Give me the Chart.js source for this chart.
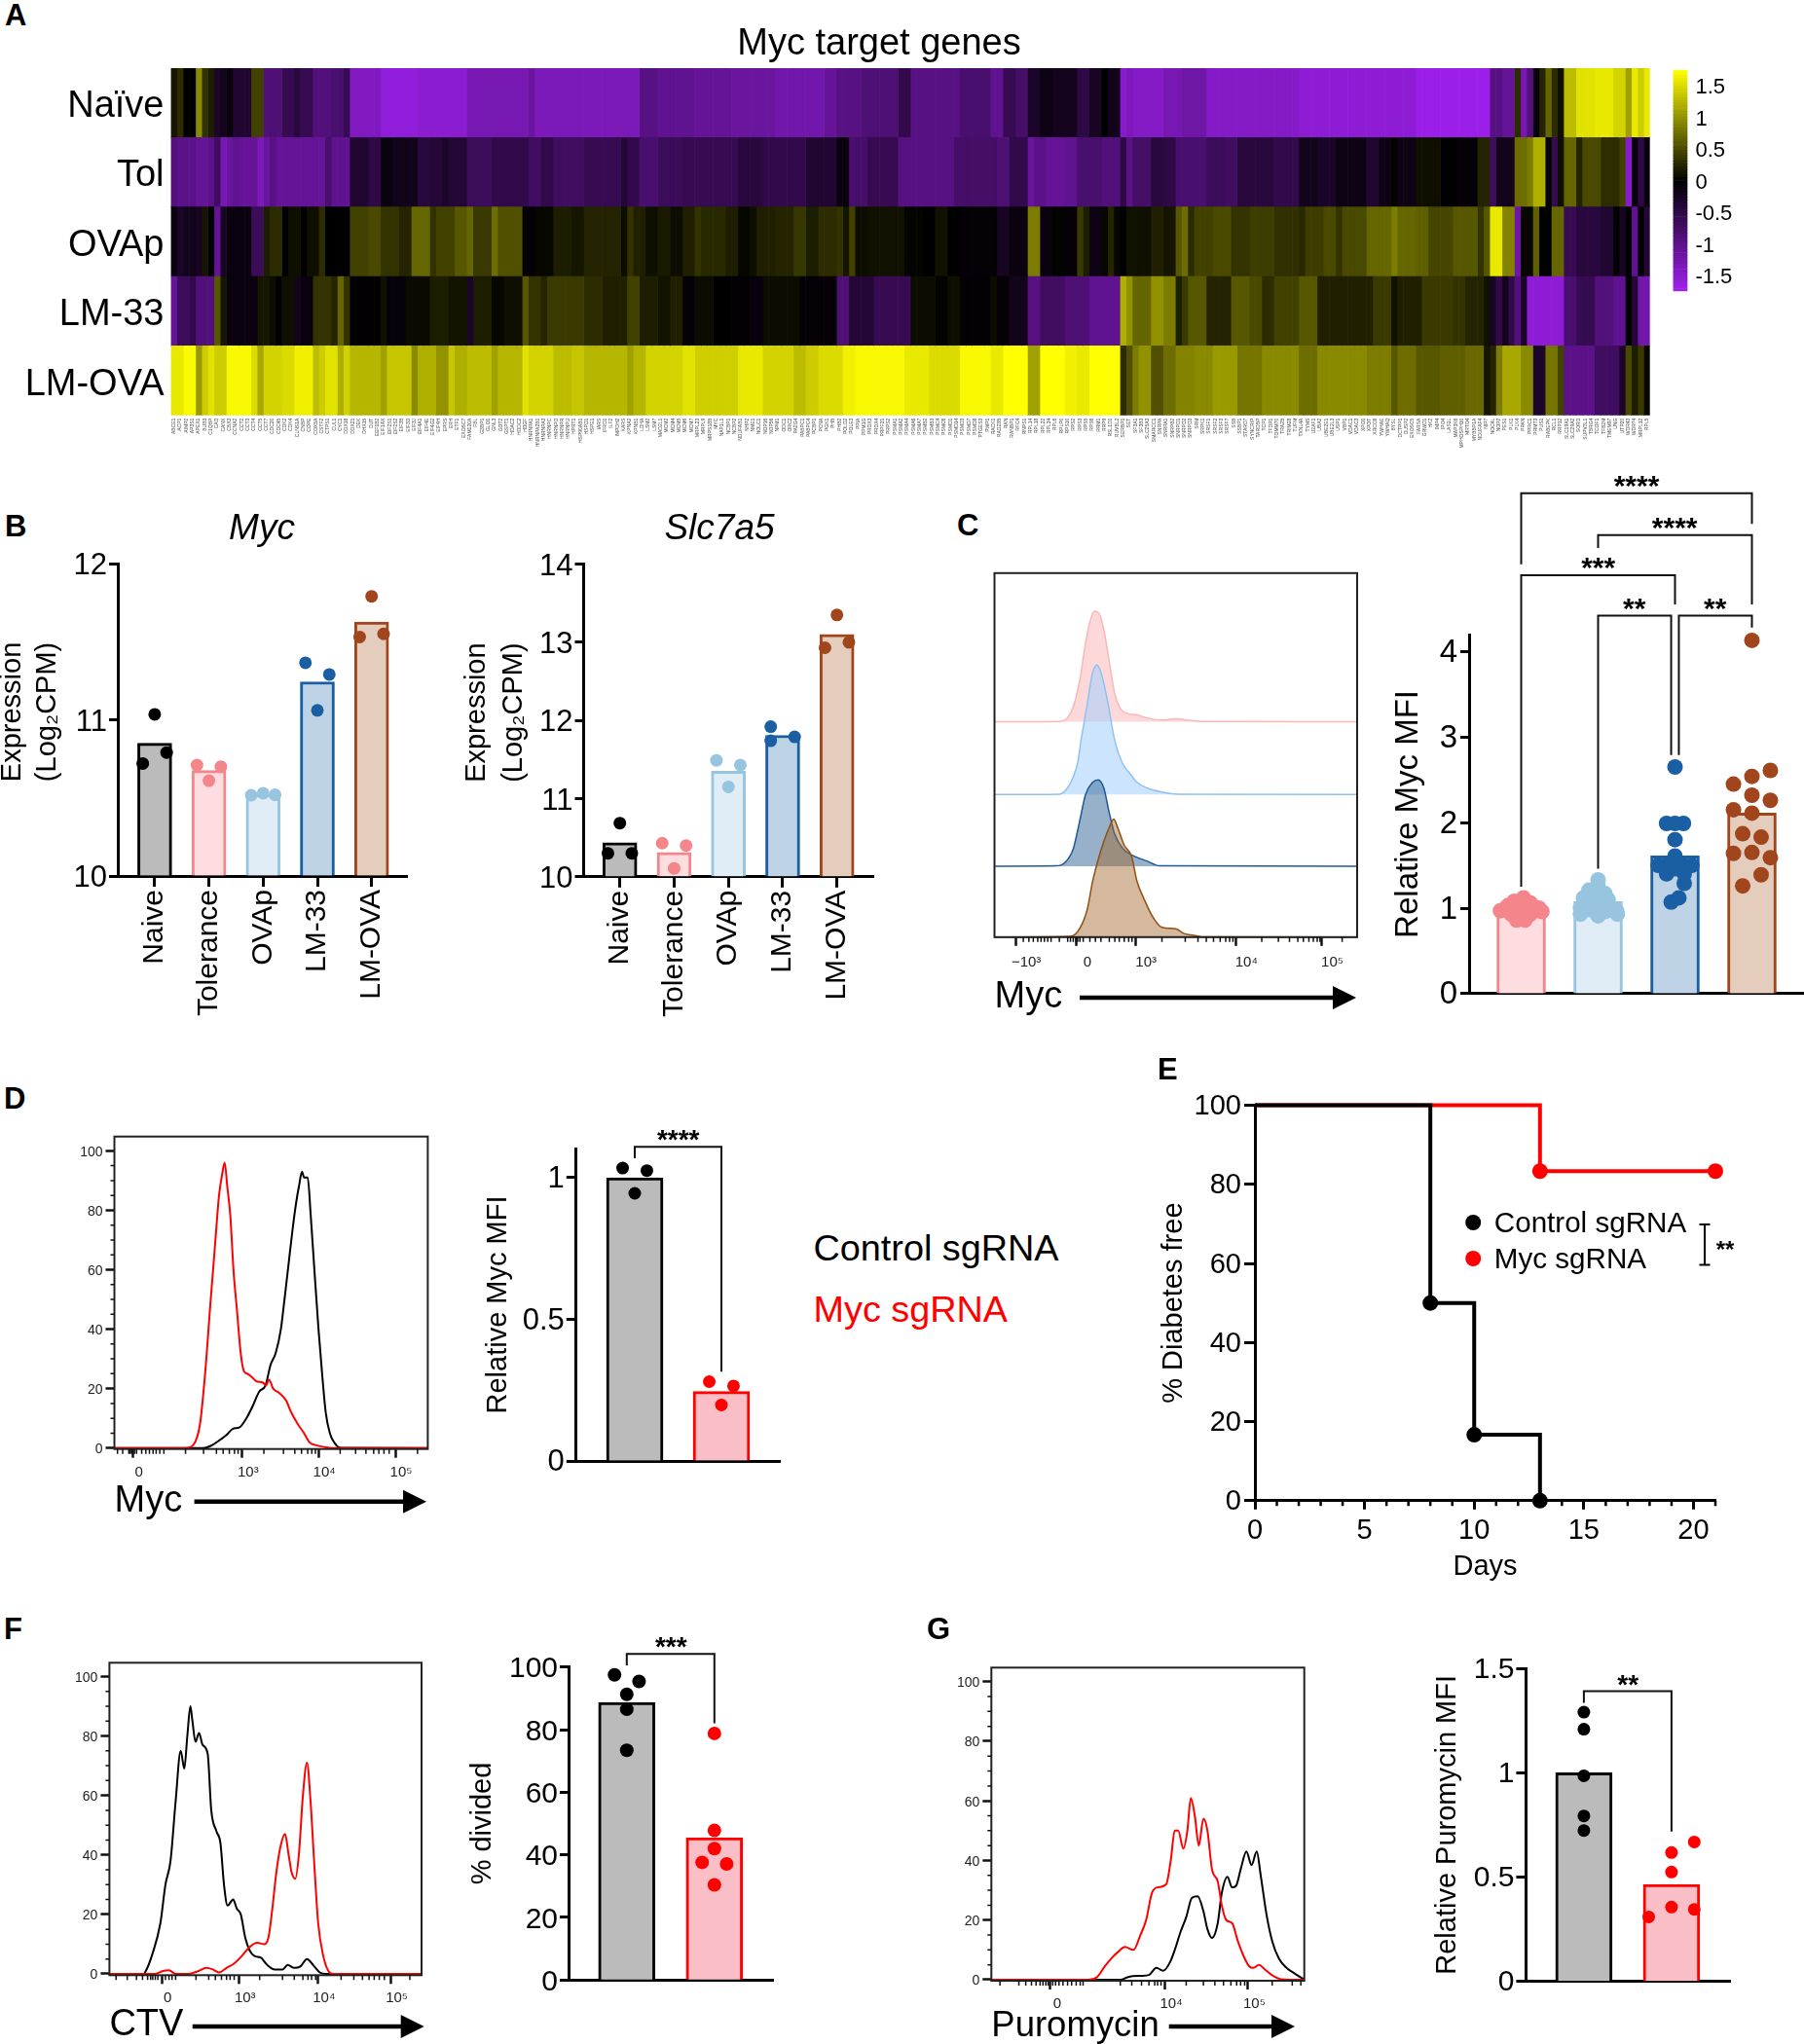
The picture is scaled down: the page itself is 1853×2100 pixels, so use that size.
<!DOCTYPE html>
<html><head><meta charset="utf-8">
<script src="https://cdn.jsdelivr.net/npm/chart.js@4/dist/chart.umd.min.js"></script>
<style>
html,body{margin:0;padding:0;background:#fff}
#page{position:relative;width:1853px;height:2100px;overflow:hidden;background:#fff;font-family:"Liberation Sans",Arial,sans-serif;color:#000}
#page canvas{position:absolute}
.t{position:absolute;white-space:nowrap;line-height:1}
svg{position:absolute;left:0;top:0}
</style></head><body><div id="page"></div>
<script>
/* ---------- Panel A: heatmap, each row is [end column (exclusive), z-score] runs ---------- */
const heatRows=["Naïve","Tol","OVAp","LM-33","LM-OVA"];
const heatNaive=[[1,.15],[2,.3],[4,0],[5,.95],[6,.35],[7,.2],[8,-.3],[9,-.2],[10,-.1],[13,-.35],[15,.45],[16,-.9],[18,-.85],[20,-.6],[21,-.45],[23,-.6],[26,-.9],[28,-.8],[29,-.6],[34,-1.4],[40,-1.58],[48,-1.52],[58,-1.3],[59,-1.15],[76,-1.35],[79,-.95],[85,-1.05],[91,-1.1],[98,-1.15],[106,-1.25],[108,-1.1],[112,-.95],[118,-.85],[120,-.55],[128,-.95],[133,-.8],[135,-1.05],[137,-.6],[139,-.75],[141,-.3],[143,-.15],[147,-.22],[149,-.5],[151,-.25],[152,0],[154,-.2],[155,-1.5],[156,-1.35],[161,-1.45],[164,-1.3],[168,-1.2],[183,-1.45],[202,-1.55],[214,-1.7],[216,-.95],[218,-1.1],[219,.3],[220,-1.3],[221,-.9],[222,-.1],[223,.25],[224,.7],[225,.3],[226,.1],[228,1.3],[231,1.55],[234,1.6],[236,1.45],[237,1.1],[238,1.6],[239,1.4],[240,1.6]];
const heatTol=[[1,-.9],[4,-1],[6,-1.1],[7,-1],[8,-.7],[9,-1.3],[10,-1.15],[11,-1.05],[14,-1.1],[15,-1.35],[16,-1.15],[17,-.95],[25,-1.1],[26,-.8],[29,-1.05],[32,-.35],[34,-.5],[36,-.12],[40,-.2],[42,-.45],[44,-.4],[45,-.3],[48,-.4],[52,-.65],[58,-.55],[60,-.7],[62,-.55],[67,-.7],[73,-.6],[74,-.4],[76,-.55],[79,-.8],[83,-.65],[92,-.6],[96,-.45],[103,-.55],[108,-.35],[110,-.1],[111,-.8],[113,-.75],[118,-.6],[127,-.95],[134,-.75],[136,-.85],[139,-.55],[140,-1.15],[142,-1],[145,-1.1],[147,-1.05],[151,-.8],[154,-.9],[155,-.5],[156,-1],[159,-.75],[161,-.45],[163,-.5],[168,-.8],[171,-.65],[173,-.7],[179,-.45],[183,-.55],[186,-.2],[189,-.3],[194,-.15],[196,-.35],[198,-.15],[199,.02],[202,-.15],[206,.1],[209,0],[212,-.05],[214,.25],[215,-.7],[218,-.2],[220,.75],[221,.85],[223,1.2],[224,0],[225,-.6],[226,.1],[228,.7],[229,.25],[232,.5],[235,.3],[236,.45],[237,-1.5],[238,-.1],[239,-.5],[240,-.1]];
const heatOVAp=[[1,-.1],[2,-.3],[4,-.2],[5,-.25],[6,.15],[7,0],[8,-1.1],[9,-.25],[13,-.12],[15,-.65],[16,.2],[18,.3],[19,0],[21,.1],[22,0],[24,.1],[25,.3],[29,0],[32,.45],[34,.5],[37,.35],[39,.25],[42,.7],[43,.35],[46,.45],[48,.6],[49,.7],[52,.4],[53,.75],[57,.55],[59,-.05],[62,.05],[65,.2],[67,.15],[73,.25],[74,.08],[75,.35],[77,.22],[79,.1],[81,.18],[83,.08],[85,.22],[86,.35],[90,.28],[92,.2],[94,.05],[95,.1],[98,.22],[101,.25],[103,.38],[105,.2],[108,.3],[109,.35],[110,.15],[111,.45],[113,.08],[119,.12],[122,.03],[124,0],[126,.12],[128,0],[134,-.05],[136,-.25],[139,-.12],[141,.85],[143,-.12],[145,.02],[147,-.05],[148,.4],[149,.2],[151,-.15],[152,.05],[153,.25],[154,.05],[155,-.02],[158,.12],[159,.1],[161,.22],[163,.15],[164,.6],[165,.75],[166,.3],[169,.45],[172,.5],[175,.35],[179,.42],[183,.33],[184,.28],[187,.42],[189,.5],[190,.35],[194,.5],[198,.7],[199,.85],[202,.7],[204,.65],[208,.48],[212,.6],[213,.35],[214,.6],[216,1.6],[218,.9],[219,-1.2],[221,.05],[222,.65],[224,0],[226,.7],[228,-.6],[232,-.45],[234,-.35],[235,-.02],[236,-.25],[237,-.02],[238,-1.05],[239,0],[240,-.4]];
const heatLM33=[[1,-1.1],[3,-.65],[4,-.55],[7,-.9],[8,.6],[9,.15],[14,-.12],[16,.15],[17,.08],[18,-.02],[20,.1],[21,-.2],[23,-.1],[26,.35],[27,.25],[28,.7],[29,.35],[34,-.02],[35,.12],[38,-.08],[42,.07],[45,.2],[48,.13],[49,-.3],[52,.2],[54,.05],[57,.1],[58,.6],[60,.35],[61,.25],[67,.4],[70,.3],[74,.22],[76,.45],[79,.2],[81,.13],[83,.22],[85,-.05],[88,.08],[91,0],[94,-.03],[96,-.1],[102,.08],[108,-.05],[110,-.85],[114,-.4],[120,-.6],[124,.08],[126,.02],[128,.1],[133,-.03],[134,.08],[136,-.05],[139,-.2],[141,-.95],[145,-.7],[149,-.85],[154,-1.05],[155,1.2],[156,1],[159,.7],[161,1],[163,.85],[164,.2],[165,.4],[168,.6],[172,.25],[175,.6],[177,.5],[179,.3],[183,.45],[186,.6],[195,.22],[198,.4],[199,.12],[203,.22],[208,.4],[210,.35],[213,.25],[214,.12],[215,-.25],[216,-.55],[217,-.2],[218,-.55],[219,-.9],[220,-.3],[226,-1.55],[228,-.8],[231,-.6],[234,-.9],[236,-1.05],[237,-.02],[238,-.4],[240,-1.25]];
const heatLMOVA=[[2,1.6],[4,1.72],[5,1.05],[6,1.4],[7,1.55],[9,1.4],[13,1.7],[14,1.5],[15,1.15],[18,1.45],[20,1.5],[23,1.65],[24,1.3],[25,1.4],[27,1.55],[28,1.2],[29,1.45],[34,1.25],[35,1.1],[39,1.35],[40,.95],[43,1.2],[45,1],[46,1.35],[48,1.2],[52,1.3],[53,1.1],[57,1.25],[58,1.55],[62,1.45],[65,1.3],[67,1.35],[74,1.25],[75,1.1],[77,1.25],[83,1.45],[85,1.55],[92,1.42],[96,1.6],[101,1.45],[103,1.3],[105,1.4],[109,1.5],[111,1.65],[119,1.7],[123,1.6],[128,1.5],[133,1.7],[135,1.6],[139,1.75],[141,1.1],[145,1.75],[147,1.65],[149,1.6],[154,1.75],[155,.3],[156,.55],[157,.85],[159,1],[161,.55],[163,.75],[166,.9],[169,.95],[173,1.05],[177,.8],[183,.95],[186,.75],[194,.95],[198,.85],[199,.6],[202,.75],[206,.6],[210,.65],[213,.72],[214,.15],[215,.25],[216,.85],[219,1.15],[221,.95],[223,-.3],[225,.8],[226,.45],[231,-1],[235,-.7],[236,-.3],[237,.5],[238,.2],[239,.4],[240,.05]];
const geneLabels="ABCE1 ACP1 AIMP2 AP3S1 APEX1 BUB3 C1QBP CAD CANX CBX3 CCNA2 CCT2 CCT3 CCT4 CCT5 CCT7 CDC20 CDC45 CDK2 CDK4 CLNS1A CNBP COPE COX5A CSTF2 CTPS1 CUL1 CYC1 DDX18 DDX21 DEK DHX15 DUT EEF1B2 EIF1AX EIF2S1 EIF2S2 EIF3B EIF3D EIF3J EIF4A1 EIF4E EIF4G2 EIF4H EPRS ERH ETF1 EXOSC7 FAM120A FBL G3BP1 GLO1 GNL3 GOT2 GSPT1 HDAC2 HDDC2 HDGF HNRNPA1 HNRNPA2B1 HNRNPA3 HNRNPC HNRNPD HNRNPR HNRNPU HPRT1 HSP90AB1 HSPD1 HSPE1 IARS IFRD1 ILF2 IMPDH2 KARS KPNA2 KPNB1 LDHA LSM2 LSM7 MAD2L1 MCM2 MCM4 MCM5 MCM6 MCM7 MRPL23 MRPL9 MRPS18B MYC NAP1L1 NCBP1 NCBP2 NDUFAB1 NHP2 NME1 NOLC1 NOP16 NOP56 NPM1 ODC1 ORC2 PA2G4 PABPC1 PABPC4 PCBP1 PCNA PGK1 PHB PHB2 POLD2 POLE3 PPIA PPM1G PRDX3 PRDX4 PRPF31 PRPS2 PSMA1 PSMA2 PSMA4 PSMA6 PSMA7 PSMB2 PSMB3 PSMC4 PSMC6 PSMD1 PSMD14 PSMD3 PSMD7 PSMD8 PTGES3 PWP1 RACK1 RAD23B RAN RANBP1 RFC4 RNPS1 RPL14 RPL18 RPL22 RPL34 RPL6 RPLP0 RPS10 RPS2 RPS3 RPS5 RPS6 RRM1 RRP9 RSL1D1 RUVBL2 SERBP1 SET SF3A1 SF3B3 SLC25A3 SMARCC1 SNRPA SNRPA1 SNRPB2 SNRPD1 SNRPD2 SNRPD3 SRM SRPK1 SRSF1 SRSF2 SRSF3 SRSF7 SSB SSBP1 STARD7 SYNCRIP TARDBP TCP1 TFDP1 TOMM70 TRA2B TRIM28 TUFM TXNL4A TYMS U2AF1 UBA2 UBE2E1 UBE2L3 USP1 VBP1 VDAC1 VDAC3 XPO1 XPOT XRCC6 YWHAE YWHAQ BYSL DCTPP1 DUSP2 EXOSC5 FARSA GRWD1 HK2 IMP4 IPO4 LAS1L MAP3K6 MPHOSPH10 MRTO4 MYBBP1A NDUFAF4 NIP7 NOC4L NOP2 PES1 PLK1 PLK4 PPAN PPRC1 PRMT3 PUS1 RABEPK RCL1 RRP12 SLC19A1 SLC29A2 SORD SUPV3L1 TBRG4 TCOF1 TFB2M TMEM97 UNG UTP20 WDR43 WDR74 MRPL12 RPL5 RPL10 EIF3A NOP58 DKC1".split(" ");
const legendTicks=[1.5,1,.5,0,-.5,-1,-1.5];

/* ---------- Panel B ---------- */
const exprCats=["Naive","Tolerance","OVAp","LM-33","LM-OVA"];
const mycMeans=[10.85,10.675,10.52,11.243,11.625];
const mycPoints=[[[0,11.035],[-.22,10.72],[.22,10.79]],[[-.22,10.71],[.22,10.70],[0,10.61]],[[-.22,10.517],[0,10.53],[.22,10.52]],[[-.22,11.365],[.22,11.29],[0,11.06]],[[0,11.79],[-.22,11.53],[.22,11.55]]];
const slcMeans=[10.437,10.31,11.35,11.81,13.10];
const slcPoints=[[[0,10.686],[-.22,10.30],[.22,10.30]],[[-.22,10.43],[.22,10.40],[0,10.107]],[[-.22,11.49],[.22,11.43],[0,11.15]],[[-.22,11.92],[-.22,11.74],[.22,11.79]],[[0,13.35],[-.22,12.93],[.22,13.0]]];

/* ---------- Panel C ---------- */
const cFlowPink=[[108,598],[225,599],[240,610],[250,640],[262,715],[272,815],[280,875],[288,905],[296,900],[305,855],[315,765],[325,675],[335,635],[345,623],[365,617],[385,608],[410,603],[435,606],[460,602],[480,599],[500,599],[762,598]];
const cFlowLight=[[108,396],[225,397],[240,415],[250,445],[258,485],[265,555],[275,645],[285,735],[293,756],[302,725],[312,655],[325,545],[338,485],[352,455],[365,430],[385,413],[410,403],[440,397],[762,396]];
const cFlowBlue=[[108,197],[220,198],[235,207],[250,245],[262,325],[272,395],[285,430],[295,437],[305,415],[315,345],[325,285],[340,245],[360,225],[385,210],[405,198],[762,197]];
const cFlowBrown=[[108,0],[245,2],[262,25],[275,75],[285,155],[295,215],[305,265],[315,305],[323,328],[330,305],[342,255],[355,225],[365,155],[378,105],[392,60],[410,27],[435,23],[450,10],[468,5],[480,1],[762,0]];
const cMeans=[1.0,1.08,1.61,2.11];
const cPoints=[
[[.03,1.12],[-.09,1.08],[.12,1.06],[-.2,1],[.23,1],[0,1],[-.27,.97],[.27,.96],[-.13,.93],[.12,.93],[-.06,.86],[.05,.86],[0,.91],[-.17,1.03],[.16,1.01]],
[[0,1.33],[0,1.25],[-.12,1.21],[.09,1.17],[-.19,1.12],[0,1.10],[.13,1.10],[-.23,1],[.24,.97],[-.09,.98],[.09,.96],[0,1],[-.23,.93],[.25,.93],[0,.91]],
[[0,2.65],[-.11,1.99],[.11,1.99],[0,1.99],[0,1.8],[0,1.61],[-.22,1.5],[-.11,1.5],[0,1.5],[.11,1.5],[.22,1.5],[-.11,1.4],[.12,1.4],[0,1.46],[.12,1.29],[.05,1.12],[-.05,1.07]],
[[0,4.13],[.24,2.61],[0,2.54],[-.24,2.45],[0,2.32],[.24,2.26],[-.24,2.15],[0,2.11],[-.12,1.87],[.12,1.83],[-.24,1.64],[0,1.65],[.24,1.59],[.12,1.39],[-.12,1.26]]];
const cBrackets=[[[0,5.02],[0,5.85],[3,5.85],[3,5.49]],[[1,5.21],[1,5.36],[3,5.36],[3,4.55]],[[0,1.25],[0,4.89],[2,4.89],[2,4.55]],[[1,1.46],[1,4.42],[1.95,4.42],[1.95,2.79]],[[2.05,2.79],[2.05,4.42],[3,4.42],[3,4.28]]];

/* ---------- Panel D ---------- */
const dFlowRed=[[222,0],[360,0],[375,1],[388,8],[398,25],[408,48],[418,70],[425,85],[431,92],[436,96],[441,88],[447,78],[453,60],[460,46],[467,32],[473,26],[480,25],[488,24],[497,22.5],[510,22],[516,21],[522,23],[530,20],[542,18.5],[555,16],[565,12],[578,8],[590,5],[600,2],[612,1],[630,.3],[645,0],[830,0]];
const dFlowBlack=[[222,0],[395,0],[410,.8],[425,2.5],[440,4.5],[452,6.5],[465,7],[478,10],[490,14],[503,19],[515,21],[525,28],[535,32],[545,40],[552,50],[560,62],[568,74],[575,83],[580,88],[586,93],[590,91],[597,91],[603,78],[610,60],[618,40],[625,25],[632,12],[640,5],[650,1.5],[660,.1],[830,0]];
const dMeans=[1,.245];
const dPoints=[[[-.14,1.034],[.14,1.025],[0,.945]],[[-.14,.28],[.14,.265],[0,.198]]];
const dBracket=[[0,1.069],[0,1.109],[1,1.109],[1,.315]];

/* ---------- Panel E ---------- */
const eControl=[[0,100],[8,50],[10,16.67],[13,0]];
const eMyc=[[0,100],[13,83.33],[21,83.33]];

/* ---------- Panel F ---------- */
const fFlowBlack=[[215,0],[282,0],[285,.5],[300,7],[315,17],[325,30],[335,38],[345,58],[355,75],[362,69],[368,80],[374,90],[378,85],[384,78],[391,81],[398,77],[408,74],[415,55],[425,48],[433,44],[440,30],[447,23],[458,25],[465,22],[473,20],[482,12],[490,8],[500,6],[512,5.5],[525,3],[540,1.5],[555,1.5],[565,3],[578,2],[590,2.5],[603,5],[615,3],[628,.5],[640,0],[828,0]];
const fFlowRed=[[215,0],[305,0],[320,1],[332,1.2],[345,0],[370,0],[390,1],[405,2],[418,1.5],[430,.5],[445,2],[460,3.5],[475,6],[490,9],[505,10.5],[518,10],[527,12],[535,22],[542,33],[550,42],[560,47],[567,40],[573,34],[580,32],[587,40],[595,60],[603,71],[610,58],[618,35],[625,17],[635,6],[645,1],[655,0],[828,0]];
const fMeans=[88.7,45.5];
const fPoints=[[[-.14,97.5],[.14,95.4],[0,91.3],[0,86.5],[0,73.4]],[[0,78.8],[0,47.8],[0,42],[-.14,37.6],[.14,37.1],[0,30.4]]];
const fBracket=[[0,100.5],[0,104.2],[1,104.2],[1,82]];

/* ---------- Panel G ---------- */
const gFlowRed=[[150,0],[320,0],[335,1],[348,4.5],[360,7.3],[372,9.5],[383,11],[398,10],[410,15],[420,20],[430,29],[440,31],[455,32],[463,40],[470,50],[476,50],[485,44],[492,50],[498,61],[505,55],[512,45],[520,54],[527,50],[535,37],[545,33],[552,25],[560,20],[570,19],[580,13],[590,8],[600,4.5],[607,4],[617,5],[627,3.5],[640,1.5],[655,.2],[696,0]];
const gFlowBlack=[[150,0],[375,0],[390,1],[410,1.3],[425,1.6],[438,4],[450,3],[462,6],[470,10],[480,16],[490,21],[500,27.5],[510,28],[520,23],[527,17],[535,14],[545,19],[552,29],[562,34.5],[570,31],[577,31.5],[585,37],[595,43],[604,38.5],[613,43],[620,35],[630,22],[640,13],[652,7],[665,4],[680,2],[696,0]];
const gMeans=[1,.465];
const gPoints=[[[0,1.29],[0,1.208],[0,.985],[0,.793],[0,.723]],[[.26,.668],[0,.617],[0,.524],[0,.356],[.26,.345],[-.26,.309]]];
const gBracket=[[0,1.335],[0,1.39],[1,1.39],[1,.718]];

/* ---------- Flow-axis tick lists (channel units) ---------- */
const cMajor=[146,256,362,543,698], cMajorLabels=["−10³","0","10³","10⁴","10⁵"];
const cMinor=[160,170,178,186,192,198,204,210,225,240,245,250,255,258,262,268,280,290,300,315,325,333,342,350,356,410,452,475,490,503,515,525,532,538,590,620,640,655,665,675,683,690,695,735];
const dMajor=[258,470,618,767], dMajorLabels=["0","10³","10⁴","10⁵"];
const dMinor=[228,238,250,253,256,261,265,275,283,290,297,303,310,318,360,395,420,433,445,455,462,512,550,572,585,597,605,612,660,690,710,725,735,745,755,810];
const fMajor=[318,470,625,768], fMajorLabels=["0","10³","10⁴","10⁵"];
const fMinor=[228,250,268,280,290,296,300,305,310,325,332,338,345,385,410,423,435,445,452,460,510,555,578,595,605,612,620,670,695,712,725,735,745,755,805];
const gMajor=[253,452,597], gMajorLabels=["0","10⁴","10⁵"];
const gMinor=[165,198,210,220,228,235,240,245,249,257,262,268,275,283,290,298,305,310,375,395,412,425,435,440,446,490,520,540,555,568,578,585,592,640,675,690];
const flowYTicks=[0,20,40,60,80,100], flowYMinor=[5,10,15,25,30,35,45,50,55,65,70,75,85,90,95];
const eXMajor=[0,5,10,15,20], eXMinor=[1,2,3,4,6,7,8,9,11,12,13,14,16,17,18,19,21];

/* ---------- Colours ---------- */
const GREY={fill:"#BBBBBB",line:"#000000",dot:"#000000"},PINK={fill:"#FDDDE0",line:"#F4868B",dot:"#F4868B"},
 SKY={fill:"#E0EDF6",line:"#97C4DE",dot:"#97C4DE"},BLUE={fill:"#BFD3E6",line:"#1A5FA3",dot:"#1A5FA3"},
 BROWN={fill:"#E5CDBE",line:"#A0451C",dot:"#A0451C"},RED={fill:"#F9BEC6",line:"#FF0000",dot:"#FF0000"};

const FONT='"Liberation Sans", Arial, sans-serif';
Chart.defaults.font.family=FONT;Chart.defaults.color="#000";
const page=document.getElementById("page");

Chart.register({id:"flowExtras",
 afterDraw(chart,args,o){
  const c=chart.ctx,a=chart.chartArea;
  if(o.frame){c.save();c.strokeStyle="#222";c.lineWidth=2;c.strokeRect(a.left,a.top,a.right-a.left,a.bottom-a.top);c.restore();}
  c.save();c.strokeStyle=o.color||"#111";c.lineWidth=o.width||1.5;c.beginPath();
  (o.x||[]).forEach(v=>{const p=chart.scales.x.getPixelForValue(v);c.moveTo(p,a.bottom);c.lineTo(p,a.bottom+o.xLen);});
  (o.y||[]).forEach(v=>{const p=chart.scales.y.getPixelForValue(v);c.moveTo(a.left,p);c.lineTo(a.left-o.yLen,p);});
  c.stroke();c.restore();
 }});

function zero(s){s.paddingLeft=s.paddingRight=s.paddingTop=s.paddingBottom=0;}
function make(rect,plot,type,data,scales,extras,more){
 const c=document.createElement("canvas");c.width=rect.w;c.height=rect.h;
 c.style.left=rect.x+"px";c.style.top=rect.y+"px";c.style.width=rect.w+"px";c.style.height=rect.h+"px";page.appendChild(c);
 const right=scales.y.position==="right";
 scales.x.afterFit=s=>{s.height=rect.y+rect.h-plot.b;zero(s);};
 scales.y.afterFit=s=>{s.width=right?rect.x+rect.w-plot.r:plot.l-rect.x;zero(s);};
 return new Chart(c,{type,data,options:Object.assign({responsive:false,maintainAspectRatio:false,animation:false,events:[],
  layout:{padding:{top:plot.t-rect.y,right:right?0:rect.x+rect.w-plot.r,left:right?plot.l-rect.x:0,bottom:0}},
  scales,plugins:{legend:{display:false},tooltip:{enabled:false},flowExtras:extras||{}}},more||{})});
}
function fixed(list){return s=>{s.ticks=list.map(v=>({value:v}));};}
function yAxis(rect,o){
 const lh=o.lh||(o.titleSize||29)*1.2;
 return {type:"linear",min:o.min,max:o.max,afterBuildTicks:fixed(o.ticks),
  border:{display:true,color:"#000",width:o.w||3},
  grid:{display:true,drawOnChartArea:false,drawTicks:true,tickLength:o.len||9,tickWidth:o.w||3,tickColor:"#000"},
  ticks:{autoSkip:false,padding:o.pad==null?2:o.pad,labelOffset:o.lo==null?1.5:o.lo,font:{size:o.size},color:"#000",callback:o.fmt||(v=>String(v))},
  title:o.title?{display:true,text:o.title,color:"#000",font:{size:o.titleSize||29,lineHeight:lh+"px"},padding:{top:o.cx-rect.x-lh/2,bottom:0}}:{display:false}};
}
function barPanel(o){
 const ds=[{type:"bar",data:o.means.map((m,i)=>({x:i,y:m})),base:o.y.min,backgroundColor:o.pal.map(p=>p.fill),borderColor:o.pal.map(p=>p.line),
   borderWidth:3,borderSkipped:"start",barThickness:o.barW,order:3,clip:false,grouped:false}];
 o.points.forEach((g,i)=>ds.push({type:"scatter",data:g.map(p=>({x:i+p[0],y:p[1]})),pointRadius:o.r,pointBackgroundColor:o.pal[i].dot,pointBorderWidth:0,order:2,clip:false}));
 (o.brackets||[]).forEach(b=>ds.push({type:"line",data:b.map(p=>({x:p[0],y:p[1]})),borderColor:"#111",borderWidth:2,pointRadius:0,tension:0,fill:false,order:1,clip:false}));
 const x={type:"linear",offset:false,min:o.xmin,max:o.xmax,afterBuildTicks:fixed(o.pal.map((p,i)=>i)),
   border:{display:true,color:"#000",width:3},
   grid:{offset:false,display:o.xLabels?true:false,drawOnChartArea:false,drawTicks:!!o.xLabels,tickLength:11,tickWidth:3,tickColor:"#000"},
   ticks:o.xLabels?{autoSkip:false,minRotation:90,maxRotation:90,padding:3,font:{size:30},color:"#000",callback:v=>o.xLabels[v]}:{display:false}};
 make(o.rect,o.plot,"bar",{datasets:ds},{x,y:yAxis(o.rect,o.y)});
}
function flowPanel(o){
 const x={type:"linear",min:o.xmin,max:o.xmax,afterBuildTicks:fixed(o.major),
  border:{display:false},
  grid:{display:true,drawOnChartArea:false,drawTicks:true,tickLength:9,tickWidth:2.5,tickColor:"#111"},
  ticks:{autoSkip:false,maxRotation:0,minRotation:0,labelOffset:o.labelOffset,padding:o.xPad||6,font:{size:15},color:"#222",callback:(v,i)=>o.labels[i]},
  title:{display:true,text:o.xTitle,align:"start",color:"#000",font:{size:o.xTitleSize||38,lineHeight:"44px"},padding:{top:0,bottom:o.rect.y+o.rect.h-o.xTitleY-22}}};
 let y;
 if(o.ymax>200){y={type:"linear",min:0,max:o.ymax,display:true,border:{display:false},grid:{display:false,drawTicks:false},ticks:{display:false}};}
 else{y={type:"linear",min:o.ymin,max:o.ymax,afterBuildTicks:fixed(flowYTicks),border:{display:false},
  grid:{display:true,drawOnChartArea:false,drawTicks:true,tickLength:9,tickWidth:2.5,tickColor:"#111"},
  ticks:{autoSkip:false,padding:3,labelOffset:1.5,font:{size:14},color:"#222",callback:v=>String(v)}};}
 const ds=o.series.map(s=>({type:"line",data:s.data.map(p=>({x:p[0],y:p[1]})),borderColor:s.color,borderWidth:s.w||2,backgroundColor:s.fill||"transparent",
   fill:s.fill?{value:s.base}:false,pointRadius:0,cubicInterpolationMode:"monotone",clip:false}));
 make(o.rect,o.plot,"line",{datasets:ds},{x,y},{frame:true,x:o.minor,xLen:5,y:o.ymax>200?[]:flowYMinor,yLen:4,width:1.5});
}

/* ---------- Heatmap ---------- */
function heatColor(v){const t=Math.min(Math.abs(v)/1.75,1);
 return v>=0?`rgb(${Math.round(255*t)},${Math.round(255*t)},0)`:`rgb(${Math.round(160*t)},${Math.round(32*t)},${Math.round(240*t)})`;}
function expand(runs){const out=[];let i=0;runs.forEach(([e,v])=>{while(i<e){out.push(v);i++;}});return out;}
const heatMatrix=[heatNaive,heatTol,heatOVAp,heatLM33,heatLMOVA].map(expand);
const heatGenes=geneLabels.slice(0,240);
make({x:0,y:60,w:1700,h:430},{l:175.5,t:70,r:1694.7,b:426.7},"bar",
 {labels:heatRows,datasets:heatGenes.map((g,i)=>({label:g,data:heatRows.map(()=>1),backgroundColor:heatMatrix.map(r=>heatColor(r[i])),borderWidth:0,barPercentage:1,categoryPercentage:1}))},
 {x:{type:"linear",stacked:true,min:0,max:240,afterBuildTicks:fixed(heatGenes.map((g,i)=>i+.5)),border:{display:false},grid:{display:false,drawTicks:false},
   ticks:{autoSkip:false,minRotation:90,maxRotation:90,padding:3,font:{size:5},color:"#444",callback:(v,i)=>heatGenes[i]}},
  y:{type:"category",stacked:true,border:{display:false},grid:{display:false,drawTicks:false},ticks:{padding:7,labelOffset:4,font:{size:38},color:"#000"}}},
 null,{indexAxis:"y"});

/* Colour key */
const keyLo=-1.735,keyHi=1.766,keySteps=80;
make({x:1710,y:60,w:130,h:250},{l:1718.5,t:71.7,r:1733.4,b:299.3},"bar",
 {labels:[""],datasets:Array.from({length:keySteps},(_,i)=>{const a=keyLo+(keyHi-keyLo)*i/keySteps,b=keyLo+(keyHi-keyLo)*(i+1)/keySteps;
   return {data:[[a,b]],backgroundColor:heatColor((a+b)/2),borderWidth:0,barPercentage:1,categoryPercentage:1,grouped:false};})},
 {x:{type:"category",border:{display:false},grid:{display:false,drawTicks:false},ticks:{display:false}},
  y:{type:"linear",position:"right",min:keyLo,max:keyHi,afterBuildTicks:fixed(legendTicks),border:{display:false},grid:{display:false,drawTicks:false},
   ticks:{padding:8,labelOffset:1,font:{size:22},color:"#000",callback:v=>String(v)}}});

/* ---------- Panel B ---------- */
const bPal=[GREY,PINK,SKY,BLUE,BROWN];
barPanel({rect:{x:-20,y:560,w:460,h:500},plot:{l:121,t:579,r:418.5,b:900},means:mycMeans,points:mycPoints,pal:bPal,barW:35,r:6.5,
 xmin:(121-158.9)/55.7,xmax:(418.5-158.9)/55.7,xLabels:exprCats,
 y:{min:10,max:12,ticks:[10,11,12],size:31,len:9,lo:2.5,title:["\u00A0\u00A0Expression","\u00A0\u00A0(Log₂CPM)"],cx:13,lh:36,titleSize:29}});
barPanel({rect:{x:460,y:560,w:460,h:500},plot:{l:599.5,t:579.6,r:897,b:900.8},means:slcMeans,points:slcPoints,pal:bPal,barW:35,r:6.5,
 xmin:(599.5-636.7)/55.75,xmax:(897-636.7)/55.75,xLabels:exprCats,
 y:{min:10,max:14,ticks:[10,11,12,13,14],size:31,len:9,lo:2.5,title:["\u00A0\u00A0Expression","\u00A0\u00A0(Log₂CPM)"],cx:490,lh:38,titleSize:29}});

/* ---------- Panel C ---------- */
flowPanel({rect:{x:1000,y:570,w:410,h:480},plot:{l:1021.5,t:588.8,r:1394,b:962.8},xmin:108,xmax:762,ymin:0,ymax:1011,major:cMajor,labels:cMajorLabels,minor:cMinor,labelOffset:11,xPad:8,xTitle:"Myc",xTitleY:1025,
 series:[{data:cFlowBrown,color:"#8E5010",fill:"rgba(160,100,40,.45)",base:0,w:1.5},{data:cFlowBlue,color:"#1F5A98",fill:"rgba(50,100,150,.5)",base:197,w:1.5},{data:cFlowLight,color:"#8FC1F5",fill:"rgba(170,210,250,.6)",base:396,w:1.5},{data:cFlowPink,color:"#F9B7B7",fill:"rgba(250,190,190,.6)",base:598,w:1.5}]});
barPanel({rect:{x:1410,y:470,w:470,h:570},plot:{l:1509.5,t:652,r:1853,b:1020.9},means:cMeans,points:cPoints,pal:[PINK,SKY,BLUE,BROWN],barW:50,r:8,brackets:cBrackets,
 xmin:(1509.5-1562.5)/79,xmax:(1853-1562.5)/79,
 y:{min:0,max:4.197,ticks:[0,1,2,3,4],size:33,len:9.5,pad:3,title:"Relative Myc MFI",cx:1447,titleSize:33}});

/* ---------- Panel D ---------- */
flowPanel({rect:{x:60,y:1150,w:400,h:420},plot:{l:117.5,t:1167.7,r:439.4,b:1488.7},xmin:222,xmax:830,ymin:-.33,ymax:104.8,major:dMajor,labels:dMajorLabels,minor:dMinor,labelOffset:6,xTitle:"Myc",xTitleY:1543,
 series:[{data:dFlowRed,color:"#FF0000"},{data:dFlowBlack,color:"#000"}]});
barPanel({rect:{x:490,y:1140,w:340,h:390},plot:{l:591.8,t:1180,r:801.5,b:1501},means:dMeans,points:dPoints,pal:[GREY,RED],barW:58,r:6.5,brackets:[dBracket],
 xmin:(591.8-652)/89,xmax:(801.5-652)/89,
 y:{min:0,max:1.103,ticks:[0,.5,1],size:31,len:10,title:"Relative Myc MFI",cx:512,titleSize:29}});

/* ---------- Panel E ---------- */
(function(){
 const rect={x:1170,y:1110,w:620,h:520},plot={l:1289,t:1135.5,r:1762,b:1541.8};
 const mk=(d,col,rad)=>({data:d.map(p=>({x:p[0],y:p[1]})),borderColor:col,backgroundColor:col,borderWidth:4,stepped:true,pointRadius:rad,pointBackgroundColor:col,pointBorderWidth:0,clip:false,fill:false});
 const y=yAxis(rect,{min:0,max:100,ticks:[0,20,40,60,80,100],size:29,len:11,pad:3,title:"% Diabetes free",cx:1206,titleSize:29});
 const x={type:"linear",min:0,max:21,afterBuildTicks:fixed(eXMajor),border:{display:true,color:"#000",width:3},
  grid:{display:true,drawOnChartArea:false,drawTicks:true,tickLength:9,tickWidth:3,tickColor:"#000"},
  ticks:{autoSkip:false,maxRotation:0,padding:5,font:{size:29},color:"#000",callback:v=>String(v)},
  title:{display:true,text:"Days",color:"#000",font:{size:29,lineHeight:"34px"},padding:{top:0,bottom:3}}};
 make(rect,plot,"line",{datasets:[mk(eControl,"#000",[0,8,8,8]),mk(eMyc,"#FF0000",[0,8,8])]},{x,y},{x:eXMinor,xLen:5.5,width:2.5,color:"#000"});
})();

/* ---------- Panel F ---------- */
flowPanel({rect:{x:60,y:1690,w:390,h:410},plot:{l:112.4,t:1708.3,r:433,b:2029.3},xmin:215,xmax:828,ymin:-.43,ymax:104.6,major:fMajor,labels:fMajorLabels,minor:fMinor,labelOffset:6,xTitle:"CTV",xTitleY:2081,
 series:[{data:fFlowRed,color:"#FF0000"},{data:fFlowBlack,color:"#000"}]});
barPanel({rect:{x:480,y:1670,w:340,h:400},plot:{l:584,t:1712.7,r:794,b:2034.3},means:fMeans,points:fPoints,pal:[GREY,RED],barW:58,r:7,brackets:[fBracket],
 xmin:(584-643.8)/90,xmax:(794-643.8)/90,
 y:{min:0,max:100,ticks:[0,20,40,60,80,100],size:30,len:9,lo:2.5,title:"% divided",cx:496,titleSize:29}});

/* ---------- Panel G ---------- */
flowPanel({rect:{x:970,y:1690,w:390,h:410},plot:{l:1018.3,t:1713.3,r:1339.7,b:2035},xmin:150,xmax:696,ymin:-.33,ymax:104.7,major:gMajor,labels:gMajorLabels,minor:gMinor,labelOffset:7,xTitle:"Puromycin",xTitleSize:36.5,xTitleY:2082,
 series:[{data:gFlowRed,color:"#FF0000"},{data:gFlowBlack,color:"#000"}]});
barPanel({rect:{x:1470,y:1670,w:320,h:400},plot:{l:1567.4,t:1714,r:1777.6,b:2035.7},means:gMeans,points:gPoints,pal:[GREY,RED],barW:58,r:6.5,brackets:[gBracket],
 xmin:(1567.4-1626.9)/90,xmax:(1777.6-1626.9)/90,
 y:{min:0,max:1.5,ticks:[0,.5,1,1.5],size:30,len:10,title:"Relative Puromycin MFI",cx:1487,titleSize:29}});

/* ---------- Text annotations ---------- */
function T(text,x,cy,size,o){o=o||{};const s=document.createElement("div");s.className="t";s.textContent=text;
 s.style.left=x+"px";s.style.top=cy+"px";s.style.fontSize=size+"px";s.style.transform=`translate(${o.center?"-50%":"0"},-50%)`;
 if(o.color)s.style.color=o.color;if(o.italic)s.style.fontStyle="italic";if(o.bold)s.style.fontWeight="bold";page.appendChild(s);}
[["A",5,15],["B",5,540],["C",983,539],["D",4,1128],["E",1189,1098],["F",4,1673],["G",952,1673]].forEach(p=>T(p[0],p[1],p[2],31,{bold:true}));
T("Myc target genes",903,43,38,{center:true});
T("Myc",269,541,37,{center:true,italic:true});
T("Slc7a5",739,541,37,{center:true,italic:true});
T("Control sgRNA",835.5,1283,37.8);
T("Myc sgRNA",835.5,1346,37.8,{color:"#FF0000"});
T("Control sgRNA",1534.8,1256,29.6);
T("Myc sgRNA",1534.8,1293,29.6);
[[1681,493,30],[1720.2,535.5,30],[1641.7,577,30],[1678.7,618.7,30],[1761.8,618.7,30],[696.7,1165.7,28],[689.3,1686.7,28],[1672.2,1725,28],[1772,1278.7,24]].forEach((p,i)=>{
 const n=[4,4,3,2,2,4,3,2,2][i];T("*".repeat(n),p[0],p[1]+p[2]*.2,p[2],{center:true,bold:true});});

/* arrows, legend dots, log-rank bracket */
const svgNS="http://www.w3.org/2000/svg";const svg=document.createElementNS(svgNS,"svg");svg.setAttribute("width",1853);svg.setAttribute("height",2100);page.appendChild(svg);
function el(n,a){const e=document.createElementNS(svgNS,n);for(const k in a)e.setAttribute(k,a[k]);svg.appendChild(e);}
[[1109,1393,1025],[199.6,438,1542.7],[197.7,435.7,2082],[1200.7,1330,2082]].forEach(([a,b,y])=>{
 el("line",{x1:a,x2:b-20,y1:y,y2:y,stroke:"#000","stroke-width":4.5});
 el("polygon",{points:`${b-24},${y-12} ${b},${y} ${b-24},${y+12}`,fill:"#000"});});
el("circle",{cx:1513.2,cy:1256,r:8,fill:"#000"});el("circle",{cx:1513.2,cy:1293,r:8,fill:"#FF0000"});
el("path",{d:"M1745.5 1258H1756.5M1751 1258V1299.4M1745.5 1299.4H1756.5",stroke:"#000","stroke-width":2,fill:"none"});
</script></body></html>
